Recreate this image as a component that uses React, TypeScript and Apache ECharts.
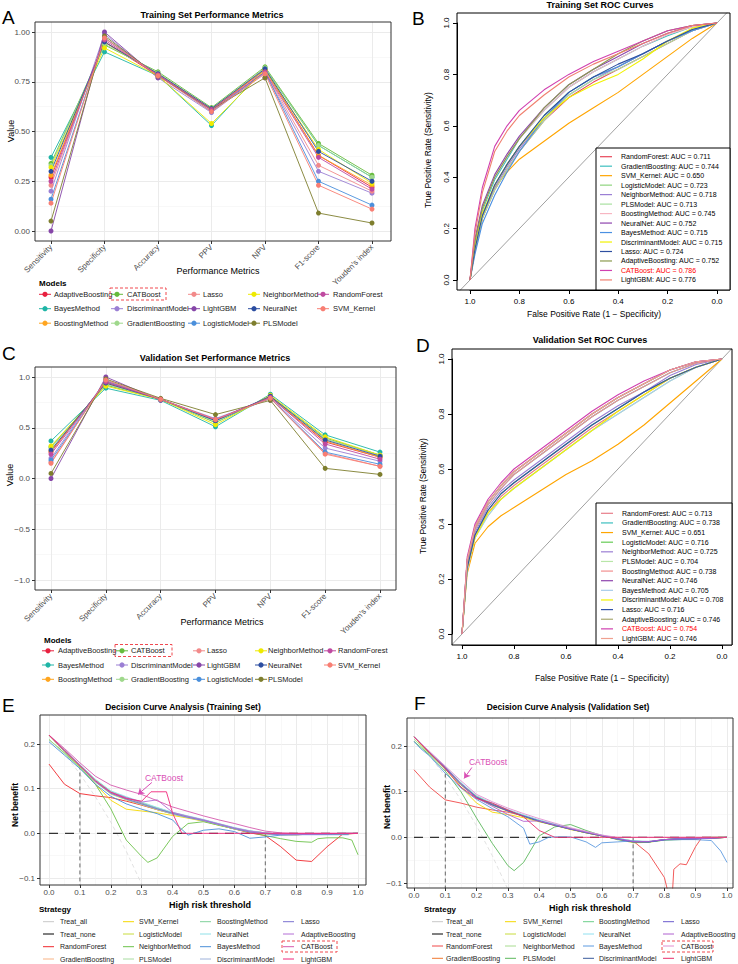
import React, { useEffect, useRef } from "react";
import * as echarts from "echarts";

const FONT = "'Liberation Sans', Arial, Helvetica, sans-serif";

// ---------------- Performance metrics (panels A, C) ----------------
const METRICS = ["Sensitivity", "Specificity", "Accuracy", "PPV", "NPV", "F1-score", "Youden's index"];
const PERF_MODELS = ["AdaptiveBoosting", "BayesMethod", "BoostingMethod", "CATBoost", "DiscriminantModel", "GradientBoosting", "Lasso", "LightGBM", "LogisticModel", "NeighborMethod", "NeuralNet", "PLSModel", "RandomForest", "SVM_Kernel"];
const PERF_LEGEND_ORDER = ["AdaptiveBoosting", "CATBoost", "Lasso", "NeighborMethod", "RandomForest", "BayesMethod", "DiscriminantModel", "LightGBM", "NeuralNet", "SVM_Kernel", "BoostingMethod", "GradientBoosting", "LogisticModel", "PLSModel"];
const PERF_COLORS: Record<string, string> = {
  AdaptiveBoosting: "#E8203F", BayesMethod: "#1EB5A6", BoostingMethod: "#FFA51F", CATBoost: "#66BB3C",
  DiscriminantModel: "#9B7FD4", GradientBoosting: "#9FD88C", Lasso: "#F28A8A", LightGBM: "#8646A8",
  LogisticModel: "#4A8FDB", NeighborMethod: "#EEEA00", NeuralNet: "#2B4DA0", PLSModel: "#7E7E2E",
  RandomForest: "#BF4AA0", SVM_Kernel: "#F87E73",
};
const TRAIN_PERF: Record<string, (number | null)[]> = {
  AdaptiveBoosting: [0.27, 0.95, 0.78, 0.61, 0.81, 0.38, 0.22],
  BayesMethod: [0.37, 0.90, 0.78, 0.53, 0.82, 0.43, 0.27],
  BoostingMethod: [0.28, 0.95, 0.79, 0.61, 0.81, 0.38, 0.23],
  CATBoost: [0.34, 0.935, 0.80, 0.62, 0.825, 0.44, 0.28],
  DiscriminantModel: [0.20, 0.99, 0.77, 0.595, 0.795, 0.30, 0.19],
  GradientBoosting: [0.33, 0.94, 0.795, 0.615, 0.82, 0.43, 0.27],
  Lasso: [0.23, 0.97, 0.785, 0.605, 0.80, 0.33, 0.20],
  LightGBM: [0.00, 1.00, 0.77, null, 0.77, null, null],
  LogisticModel: [0.16, 0.97, 0.785, 0.60, 0.80, 0.25, 0.13],
  NeighborMethod: [0.32, 0.92, 0.78, 0.54, 0.81, 0.41, 0.24],
  NeuralNet: [0.30, 0.95, 0.79, 0.615, 0.815, 0.40, 0.25],
  PLSModel: [0.05, 0.98, 0.78, 0.61, 0.77, 0.09, 0.04],
  RandomForest: [0.25, 0.96, 0.785, 0.61, 0.80, 0.37, 0.21],
  SVM_Kernel: [0.14, 0.97, 0.78, 0.60, 0.79, 0.23, 0.11],
};
const VALID_PERF: Record<string, (number | null)[]> = {
  AdaptiveBoosting: [0.26, 0.95, 0.78, 0.58, 0.80, 0.36, 0.21],
  BayesMethod: [0.37, 0.89, 0.77, 0.51, 0.83, 0.43, 0.26],
  BoostingMethod: [0.27, 0.94, 0.78, 0.57, 0.80, 0.37, 0.21],
  CATBoost: [0.31, 0.92, 0.78, 0.55, 0.81, 0.40, 0.23],
  DiscriminantModel: [0.20, 0.97, 0.78, 0.59, 0.79, 0.30, 0.17],
  GradientBoosting: [0.30, 0.93, 0.78, 0.56, 0.81, 0.39, 0.23],
  Lasso: [0.16, 0.96, 0.78, 0.58, 0.79, 0.25, 0.12],
  LightGBM: [0.00, 1.00, 0.77, null, 0.77, null, null],
  LogisticModel: [0.18, 0.96, 0.78, 0.57, 0.79, 0.26, 0.14],
  NeighborMethod: [0.32, 0.91, 0.78, 0.53, 0.82, 0.41, 0.23],
  NeuralNet: [0.28, 0.94, 0.78, 0.57, 0.81, 0.38, 0.22],
  PLSModel: [0.05, 0.98, 0.79, 0.63, 0.77, 0.10, 0.04],
  RandomForest: [0.24, 0.95, 0.78, 0.58, 0.80, 0.34, 0.19],
  SVM_Kernel: [0.15, 0.97, 0.78, 0.58, 0.79, 0.24, 0.12],
};

// ---------------- ROC (panels B, D) ----------------
const ROC_MODELS = ["RandomForest", "GradientBoosting", "SVM_Kernel", "LogisticModel", "NeighborMethod", "PLSModel", "BoostingMethod", "NeuralNet", "BayesMethod", "DiscriminantModel", "Lasso", "AdaptiveBoosting", "CATBoost", "LightGBM"];
const ROC_AUC_TRAIN = [0.711, 0.744, 0.650, 0.723, 0.718, 0.713, 0.745, 0.752, 0.715, 0.715, 0.724, 0.752, 0.786, 0.776];
const ROC_AUC_VALID = [0.713, 0.738, 0.651, 0.716, 0.725, 0.704, 0.738, 0.746, 0.705, 0.708, 0.716, 0.746, 0.754, 0.746];
const ROC_COLORS_TRAIN = ["#E8475A", "#3CBFBF", "#FFA500", "#8FD47F", "#9B7FD4", "#A8E0A0", "#F7B6C2", "#8E44AD", "#4A90E2", "#F2F200", "#2E4FA0", "#8C9A4E", "#D040B0", "#F08070"];
const ROC_COLORS_VALID = ["#E87D8A", "#3CBFBF", "#FFA500", "#66CC55", "#9B7FD4", "#B8E6A8", "#F29090", "#8E44AD", "#A8CCEA", "#F2F200", "#3050A8", "#A8A870", "#D040B0", "#F0A090"];
const ROC_SPEC = [1, 0.98, 0.95, 0.9, 0.85, 0.8, 0.7, 0.6, 0.5, 0.4, 0.3, 0.2, 0.1, 0];
const ROC_TRAIN: number[][] = [
  [0, 0.12, 0.24, 0.35, 0.43, 0.50, 0.62, 0.71, 0.77, 0.82, 0.87, 0.92, 0.97, 1],
  [0, 0.14, 0.27, 0.39, 0.47, 0.55, 0.66, 0.75, 0.81, 0.86, 0.91, 0.95, 0.985, 1],
  [0, 0.11, 0.24, 0.36, 0.42, 0.47, 0.54, 0.61, 0.67, 0.73, 0.80, 0.87, 0.94, 1],
  [0, 0.12, 0.25, 0.37, 0.45, 0.52, 0.64, 0.73, 0.79, 0.83, 0.88, 0.93, 0.975, 1],
  [0, 0.12, 0.25, 0.36, 0.44, 0.51, 0.63, 0.72, 0.78, 0.83, 0.88, 0.93, 0.97, 1],
  [0, 0.12, 0.24, 0.35, 0.43, 0.50, 0.62, 0.72, 0.78, 0.82, 0.87, 0.92, 0.97, 1],
  [0, 0.15, 0.28, 0.40, 0.48, 0.55, 0.66, 0.75, 0.81, 0.86, 0.91, 0.955, 0.985, 1],
  [0, 0.16, 0.29, 0.41, 0.49, 0.56, 0.67, 0.76, 0.82, 0.87, 0.92, 0.96, 0.99, 1],
  [0, 0.10, 0.22, 0.33, 0.42, 0.50, 0.63, 0.73, 0.79, 0.83, 0.88, 0.93, 0.97, 1],
  [0, 0.13, 0.26, 0.37, 0.45, 0.52, 0.63, 0.71, 0.76, 0.80, 0.86, 0.93, 0.98, 1],
  [0, 0.12, 0.25, 0.37, 0.45, 0.52, 0.64, 0.73, 0.79, 0.84, 0.88, 0.93, 0.975, 1],
  [0, 0.15, 0.28, 0.40, 0.48, 0.55, 0.67, 0.76, 0.82, 0.88, 0.93, 0.97, 0.99, 1],
  [0, 0.20, 0.36, 0.52, 0.60, 0.66, 0.74, 0.80, 0.85, 0.89, 0.93, 0.97, 0.99, 1],
  [0, 0.18, 0.34, 0.50, 0.58, 0.64, 0.72, 0.79, 0.84, 0.88, 0.92, 0.96, 0.99, 1],
];
const ROC_VALID: number[][] = [
  [0, 0.24, 0.36, 0.44, 0.50, 0.54, 0.61, 0.68, 0.75, 0.81, 0.87, 0.93, 0.97, 1],
  [0, 0.26, 0.38, 0.47, 0.53, 0.58, 0.65, 0.72, 0.79, 0.85, 0.90, 0.95, 0.985, 1],
  [0, 0.22, 0.33, 0.39, 0.43, 0.46, 0.52, 0.58, 0.63, 0.69, 0.76, 0.84, 0.92, 1],
  [0, 0.24, 0.36, 0.45, 0.51, 0.55, 0.62, 0.69, 0.76, 0.82, 0.88, 0.93, 0.97, 1],
  [0, 0.25, 0.37, 0.46, 0.52, 0.56, 0.63, 0.70, 0.77, 0.83, 0.88, 0.94, 0.98, 1],
  [0, 0.24, 0.35, 0.43, 0.49, 0.53, 0.60, 0.67, 0.74, 0.80, 0.86, 0.92, 0.97, 1],
  [0, 0.26, 0.38, 0.47, 0.53, 0.58, 0.65, 0.72, 0.79, 0.85, 0.90, 0.95, 0.985, 1],
  [0, 0.27, 0.39, 0.48, 0.54, 0.59, 0.66, 0.73, 0.80, 0.86, 0.91, 0.96, 0.99, 1],
  [0, 0.23, 0.35, 0.43, 0.49, 0.53, 0.60, 0.67, 0.74, 0.80, 0.86, 0.92, 0.97, 1],
  [0, 0.24, 0.35, 0.44, 0.49, 0.53, 0.60, 0.67, 0.74, 0.81, 0.87, 0.93, 0.97, 1],
  [0, 0.24, 0.36, 0.45, 0.51, 0.55, 0.62, 0.69, 0.76, 0.82, 0.88, 0.93, 0.97, 1],
  [0, 0.27, 0.39, 0.48, 0.54, 0.59, 0.66, 0.73, 0.80, 0.86, 0.91, 0.96, 0.99, 1],
  [0, 0.28, 0.40, 0.49, 0.55, 0.60, 0.67, 0.74, 0.81, 0.87, 0.92, 0.96, 0.99, 1],
  [0, 0.27, 0.39, 0.48, 0.54, 0.59, 0.66, 0.73, 0.80, 0.86, 0.91, 0.96, 0.99, 1],
];

// ---------------- Decision curves (panels E, F) ----------------
const DCA_MODELS = ["Treat_all", "Treat_none", "RandomForest", "GradientBoosting", "SVM_Kernel", "LogisticModel", "NeighborMethod", "PLSModel", "BoostingMethod", "NeuralNet", "BayesMethod", "DiscriminantModel", "Lasso", "AdaptiveBoosting", "CATBoost", "LightGBM"];
const DCA_COLORS_TRAIN = ["#C8C8C8", "#000000", "#F0282D", "#F9B384", "#F5D800", "#C8DC3C", "#6CC24A", "#A8DCA0", "#7FD19A", "#8FE0E8", "#4A8FD8", "#9EB2DA", "#7B72D0", "#B46ED6", "#D55AAE", "#F0287A"];
const DCA_COLORS_VALID = ["#C8C8C8", "#000000", "#F04848", "#F07830", "#F5D800", "#C8DC3C", "#A8DC90", "#5CB85C", "#6CCF8A", "#90E0F0", "#5C9AE0", "#3A5A9C", "#6A5ACD", "#B060D0", "#E28FD0", "#E8306A"];
const DCA_X = [0, 0.05, 0.1, 0.15, 0.2, 0.25, 0.3, 0.35, 0.4, 0.45, 0.5, 0.55, 0.6, 0.65, 0.7, 0.75, 0.8, 0.85, 0.9, 0.95, 1.0];
const DCA_TRAIN_X: Record<string, number[]> = {
  Treat_all: [0, 0.05, 0.1, 0.15, 0.2, 0.25, 0.3, 0.35],
  Treat_none: [0, 1],
  NeighborMethod: [0, 0.05, 0.1, 0.15, 0.2, 0.25, 0.3, 0.32, 0.35, 0.4, 0.45, 0.5, 0.55, 0.6, 0.65, 0.7, 0.75, 0.8, 0.85, 0.87, 0.9, 0.95, 0.98, 1.0],
  BayesMethod: [0, 0.05, 0.1, 0.15, 0.2, 0.25, 0.3, 0.35, 0.4, 0.42, 0.45, 0.5, 0.55, 0.6, 0.65, 0.7, 0.75, 0.8, 0.85, 0.9, 0.95, 0.97],
  LightGBM: [0, 0.05, 0.1, 0.15, 0.2, 0.25, 0.3, 0.33, 0.38, 0.4, 0.43, 0.5, 0.6, 0.7, 0.8, 0.9, 1.0],
};
const DCA_TRAIN: Record<string, number[]> = {
  Treat_all: [0.22, 0.179, 0.133, 0.082, 0.025, -0.04, -0.114, -0.2],
  Treat_none: [0, 0],
  RandomForest: [0.155, 0.11, 0.089, 0.084, 0.08, 0.072, 0.063, 0.053, 0.044, 0.036, 0.028, 0.019, 0.010, 0.001, -0.005, -0.03, -0.06, -0.063, -0.03, -0.002, 0.0],
  GradientBoosting: [0.22, 0.186, 0.153, 0.12, 0.094, 0.08, 0.068, 0.056, 0.045, 0.037, 0.03, 0.021, 0.012, 0.005, 0.001, -0.002, -0.003, -0.002, -0.001, 0, 0],
  SVM_Kernel: [0.22, 0.183, 0.148, 0.11, 0.074, 0.054, 0.05, 0.046, 0.04, 0.034, 0.027, 0.018, 0.01, 0.003, 0, -0.003, -0.003, -0.002, -0.002, -0.001, 0],
  LogisticModel: [0.22, 0.184, 0.15, 0.115, 0.088, 0.075, 0.064, 0.053, 0.043, 0.035, 0.028, 0.019, 0.01, 0.003, -0.001, -0.003, -0.003, -0.002, -0.002, -0.001, 0],
  NeighborMethod: [0.21, 0.18, 0.148, 0.11, 0.055, -0.015, -0.052, -0.065, -0.055, -0.007, 0.022, 0.026, 0.018, 0.01, 0.002, -0.005, -0.012, -0.018, -0.02, -0.012, -0.01, -0.01, -0.015, -0.048],
  PLSModel: [0.21, 0.178, 0.147, 0.115, 0.09, 0.076, 0.065, 0.054, 0.044, 0.036, 0.029, 0.02, 0.011, 0.004, 0, -0.002, -0.003, -0.002, -0.002, -0.001, 0],
  BoostingMethod: [0.22, 0.186, 0.153, 0.12, 0.093, 0.08, 0.068, 0.057, 0.046, 0.038, 0.03, 0.021, 0.012, 0.005, 0.001, -0.002, -0.002, -0.002, -0.001, 0, 0],
  NeuralNet: [0.22, 0.187, 0.154, 0.121, 0.095, 0.082, 0.07, 0.058, 0.047, 0.039, 0.031, 0.022, 0.013, 0.006, 0.001, -0.001, -0.002, -0.002, -0.001, 0, 0],
  BayesMethod: [0.205, 0.175, 0.145, 0.11, 0.083, 0.066, 0.054, 0.044, 0.03, 0.015, -0.004, 0.007, 0.01, 0.004, -0.011, -0.008, -0.004, -0.003, -0.003, -0.003, -0.003, -0.003],
  DiscriminantModel: [0.22, 0.185, 0.151, 0.117, 0.089, 0.076, 0.065, 0.054, 0.043, 0.035, 0.028, 0.019, 0.01, 0.003, -0.001, -0.003, -0.003, -0.002, -0.002, -0.001, 0],
  Lasso: [0.22, 0.184, 0.151, 0.116, 0.09, 0.077, 0.066, 0.055, 0.045, 0.036, 0.029, 0.02, 0.011, 0.003, -0.001, -0.003, -0.003, -0.002, -0.002, -0.001, 0],
  AdaptiveBoosting: [0.22, 0.186, 0.152, 0.116, 0.092, 0.08, 0.07, 0.075, 0.047, 0.038, 0.03, 0.021, 0.012, 0.005, 0.001, -0.002, -0.002, -0.002, -0.001, 0, 0],
  CATBoost: [0.22, 0.19, 0.158, 0.128, 0.108, 0.097, 0.087, 0.073, 0.059, 0.049, 0.039, 0.03, 0.022, 0.013, 0.005, 0.001, 0, 0, 0, 0, 0],
  LightGBM: [0.22, 0.186, 0.152, 0.118, 0.092, 0.078, 0.072, 0.093, 0.093, 0.045, 0.0, 0, 0, 0, 0, 0, 0],
};
const DCA_VALID_X: Record<string, number[]> = {
  Treat_all: [0, 0.05, 0.1, 0.15, 0.2, 0.25, 0.3, 0.35],
  Treat_none: [0, 1],
  RandomForest: [0, 0.05, 0.1, 0.15, 0.2, 0.25, 0.3, 0.35, 0.4, 0.45, 0.5, 0.55, 0.6, 0.65, 0.7, 0.75, 0.8, 0.815, 0.825, 0.83, 0.85, 0.87, 0.9, 0.92, 1.0],
  PLSModel: [0, 0.05, 0.1, 0.15, 0.2, 0.25, 0.3, 0.32, 0.35, 0.4, 0.45, 0.5, 0.55, 0.6, 0.65, 0.7, 0.75, 0.8, 0.85, 0.9, 0.95, 1.0],
  BayesMethod: [0, 0.02, 0.05, 0.1, 0.15, 0.2, 0.25, 0.3, 0.35, 0.37, 0.4, 0.43, 0.45, 0.5, 0.55, 0.58, 0.6, 0.65, 0.7, 0.75, 0.8, 0.85, 0.9, 0.95, 0.98, 1.0],
};
const DCA_VALID: Record<string, number[]> = {
  Treat_all: [0.22, 0.179, 0.133, 0.082, 0.025, -0.04, -0.114, -0.2],
  Treat_none: [0, 0],
  RandomForest: [0.148, 0.11, 0.082, 0.075, 0.066, 0.06, 0.055, 0.047, 0.036, 0.027, 0.018, 0.01, 0.003, -0.003, -0.008, -0.036, -0.088, -0.13, -0.13, -0.07, -0.058, -0.06, -0.02, 0.0, 0.0],
  GradientBoosting: [0.22, 0.186, 0.154, 0.118, 0.09, 0.074, 0.06, 0.048, 0.037, 0.028, 0.019, 0.011, 0.004, -0.003, -0.01, -0.01, -0.005, -0.003, -0.003, -0.002, 0],
  SVM_Kernel: [0.22, 0.183, 0.15, 0.11, 0.075, 0.055, 0.05, 0.043, 0.034, 0.026, 0.017, 0.01, 0.003, -0.004, -0.01, -0.01, -0.005, -0.003, -0.003, -0.002, 0],
  LogisticModel: [0.22, 0.184, 0.151, 0.115, 0.086, 0.07, 0.057, 0.046, 0.035, 0.026, 0.018, 0.01, 0.003, -0.004, -0.012, -0.011, -0.006, -0.004, -0.003, -0.002, 0],
  NeighborMethod: [0.215, 0.182, 0.15, 0.114, 0.087, 0.072, 0.058, 0.047, 0.036, 0.027, 0.018, 0.01, 0.004, -0.003, -0.009, -0.009, -0.005, -0.003, -0.003, 0, 0],
  PLSModel: [0.21, 0.18, 0.145, 0.1, 0.042, -0.013, -0.062, -0.073, -0.055, 0.003, 0.023, 0.028, 0.015, 0.004, -0.005, -0.01, -0.01, -0.006, -0.005, -0.003, 0, 0],
  BoostingMethod: [0.22, 0.186, 0.154, 0.118, 0.089, 0.073, 0.059, 0.048, 0.037, 0.028, 0.019, 0.011, 0.004, -0.002, -0.008, -0.01, -0.005, -0.003, -0.002, -0.001, 0],
  NeuralNet: [0.22, 0.187, 0.155, 0.12, 0.091, 0.075, 0.061, 0.049, 0.038, 0.029, 0.02, 0.012, 0.005, -0.002, -0.008, -0.009, -0.005, -0.003, -0.002, -0.001, 0],
  BayesMethod: [0.21, 0.195, 0.178, 0.14, 0.108, 0.083, 0.063, 0.045, 0.02, -0.015, -0.01, 0.0, 0.001, 0.001, -0.01, -0.022, -0.012, -0.01, -0.008, -0.01, -0.006, -0.005, -0.005, -0.007, -0.03, -0.055],
  DiscriminantModel: [0.22, 0.185, 0.152, 0.116, 0.087, 0.071, 0.058, 0.046, 0.035, 0.026, 0.018, 0.01, 0.003, -0.003, -0.01, -0.01, -0.005, -0.003, -0.003, -0.002, 0],
  Lasso: [0.22, 0.185, 0.152, 0.117, 0.088, 0.072, 0.058, 0.047, 0.036, 0.027, 0.018, 0.011, 0.004, -0.004, -0.01, -0.01, -0.005, -0.003, -0.003, -0.002, 0],
  AdaptiveBoosting: [0.22, 0.186, 0.153, 0.117, 0.086, 0.068, 0.05, 0.035, 0.036, 0.027, 0.019, 0.011, 0.004, -0.003, -0.009, -0.009, -0.005, -0.003, -0.003, -0.002, 0],
  CATBoost: [0.22, 0.188, 0.156, 0.124, 0.094, 0.078, 0.064, 0.052, 0.041, 0.031, 0.021, 0.013, 0.005, 0.0, 0.0, 0, 0, 0, 0, 0, 0],
  LightGBM: [0.22, 0.185, 0.15, 0.11, 0.085, 0.075, 0.06, 0.045, 0.015, 0.0, 0, 0, 0, 0, 0, 0, 0, 0, 0, 0, 0],
};
const THRESHOLDS = [0.1, 0.7];
const THRESH_TOP_TRAIN = [0.152, 0.0];
const THRESH_TOP_VALID = [0.155, 0.0];

// ---------------- helpers ----------------
type Anchor = [number, number, number, number];
const v2p = (a: Anchor, v: number) => a[1] + ((v - a[0]) * (a[3] - a[1])) / (a[2] - a[0]);
const p2v = (a: Anchor, p: number) => a[0] + ((p - a[1]) * (a[2] - a[0])) / (a[3] - a[1]);

interface AxisSpec { anchor: Anchor; min: number; max: number; interval: number; fmt: (v: number) => string; rotate?: number; minor?: boolean; margin?: number; }
interface Box { l: number; t: number; r: number; b: number; }
interface PanelSpec { box: Box; x: AxisSpec; y: AxisSpec; kind: "gg" | "base"; }

const fmtSigned = (d: number) => (v: number) => (v < -1e-9 ? "\u2212" : "") + Math.abs(v).toFixed(d);

function buildOption() {
  const grids: any[] = [];
  const xAxes: any[] = [];
  const yAxes: any[] = [];
  const series: any[] = [];
  const gfx: any[] = [];

  const addGrid = (g: any, xa: any, ya: any) => {
    const i = grids.length;
    grids.push({ ...g, containLabel: false, outerBoundsMode: "none", show: false });
    xAxes.push({ ...xa, gridIndex: i });
    yAxes.push({ ...ya, gridIndex: i });
    return i;
  };
  const hidden = (min = 0, max = 1, inverse = false) => ({ type: "value", show: false, min, max, inverse });

  const axisCfg = (s: AxisSpec, gg: boolean, inverse = false) => ({
    type: "value", min: s.min, max: s.max, interval: s.interval, inverse,
    axisLine: { show: !gg, lineStyle: { color: "#000", width: 1 } },
    axisTick: { show: true, inside: false, length: gg ? 3 : 4, lineStyle: { color: gg ? "#333333" : "#000", width: 1 } },
    axisLabel: { color: gg ? "#4D4D4D" : "#000", fontSize: 8, fontFamily: FONT, margin: s.margin ?? (gg ? 5 : 7), rotate: s.rotate || 0, formatter: s.fmt },
    splitLine: { show: gg, lineStyle: { color: "#EBEBEB", width: 1 } },
    minorTick: { show: false, splitNumber: 2 },
    minorSplitLine: { show: gg && !!s.minor, lineStyle: { color: "#F3F3F3", width: 0.6 } },
  });

  const panel = (s: PanelSpec) => {
    const { box } = s;
    const gg = s.kind === "gg";
    const yTop = v2p(s.y.anchor, s.y.max);
    const yBot = v2p(s.y.anchor, s.y.min);
    addGrid({ left: box.l, top: yTop, width: box.r - box.l, height: yBot - yTop }, hidden(), axisCfg(s.y, gg));
    const xa = v2p(s.x.anchor, s.x.min);
    const xb = v2p(s.x.anchor, s.x.max);
    const xInv = xa > xb;
    addGrid({ left: Math.min(xa, xb), top: box.t, width: Math.abs(xb - xa), height: box.b - box.t }, axisCfg(s.x, gg, xInv), hidden());
    const x0 = p2v(s.x.anchor, box.l);
    const x1 = p2v(s.x.anchor, box.r);
    const y0 = p2v(s.y.anchor, box.b);
    const y1 = p2v(s.y.anchor, box.t);
    const bi = addGrid({ left: box.l, top: box.t, width: box.r - box.l, height: box.b - box.t },
      hidden(Math.min(x0, x1), Math.max(x0, x1), x0 > x1), hidden(y0, y1));
    gfx.push({ type: "rect", z: 60, silent: true, shape: { x: box.l, y: box.t, width: box.r - box.l, height: box.b - box.t }, style: { fill: "none", stroke: gg ? "#333333" : "#000", lineWidth: 1 } });
    return bi;
  };

  const text = (t: string, x: number, y: number, size: number, o: any = {}) => {
    gfx.push({
      type: "text", x, y, z: 80, silent: true, rotation: o.rot ? Math.PI / 2 : 0,
      style: { text: t, fill: o.color || "#000", fontSize: size, fontFamily: FONT, fontWeight: o.bold ? "bold" : "normal", align: o.align || "center", verticalAlign: "middle" },
    });
  };
  const hline = (x1: number, x2: number, y: number, color: string, w = 1) =>
    gfx.push({ type: "line", z: 80, silent: true, shape: { x1, y1: y, x2, y2: y }, style: { stroke: color, lineWidth: w } });
  const dashBox = (x: number, y: number, w: number, h: number) =>
    gfx.push({ type: "rect", z: 80, silent: true, shape: { x, y, width: w, height: h }, style: { fill: "none", stroke: "#F0484F", lineWidth: 1, lineDash: [3, 2] } });

  // ----- Performance panels -----
  const perfPanel = (data: Record<string, (number | null)[]>, box: Box, xAnchor: Anchor, yAnchor: Anchor, ymin: number, yint: number, yfmt: (v: number) => string) => {
    const bi = panel({
      box, kind: "gg",
      x: { anchor: xAnchor, min: 0, max: 6, interval: 1, rotate: 45, fmt: (v: number) => METRICS[Math.round(v)] || "" },
      y: { anchor: yAnchor, min: ymin, max: 1, interval: yint, fmt: yfmt, minor: true },
    });
    PERF_MODELS.forEach((m) => {
      series.push({
        type: "line", name: m, xAxisIndex: bi, yAxisIndex: bi, silent: true, clip: false,
        symbol: "circle", symbolSize: 5, showSymbol: true, connectNulls: false,
        lineStyle: { color: PERF_COLORS[m], width: 0.9 }, itemStyle: { color: PERF_COLORS[m] },
        data: data[m].map((v, i) => [i, v == null ? "-" : v]),
      });
    });
  };
  const perfLegend = (titleX: number, titleY: number, iconX: number[], textX: number[], rowY: number[], cat: number[]) => {
    text("Models", titleX, titleY, 8, { bold: true, align: "left" });
    PERF_LEGEND_ORDER.forEach((m, k) => {
      const r = Math.floor(k / 5), c = k % 5;
      const y = rowY[r];
      hline(iconX[c] - 6, iconX[c] + 6, y, PERF_COLORS[m], 1);
      gfx.push({ type: "circle", z: 81, silent: true, shape: { cx: iconX[c], cy: y, r: 2.6 }, style: { fill: PERF_COLORS[m] } });
      text(m, textX[c], y, 7.5, { align: "left", color: "#1A1A1A" });
    });
    dashBox(cat[0], cat[1], cat[2], cat[3]);
  };

  // Panel A
  text("A", 2, 17, 19, { align: "left" });
  text("Training Set Performance Metrics", 212, 15, 9, { bold: true });
  perfPanel(TRAIN_PERF, { l: 35, t: 22, r: 391, b: 241 }, [0, 51, 6, 372], [0, 231, 1, 32], 0, 0.25, (v) => v.toFixed(2));
  text("Value", 11, 131, 9, { rot: true });
  text("Performance Metrics", 218, 271, 9);
  perfLegend(39, 283, [45, 117, 194, 254, 323], [54, 127, 203, 263, 333], [294.3, 308.7, 323.2], [110, 288, 56, 12]);

  // Panel C
  text("C", 2, 353, 19, { align: "left" });
  text("Validation Set Performance Metrics", 215, 358, 9, { bold: true });
  perfPanel(VALID_PERF, { l: 35, t: 367, r: 396, b: 590 }, [0, 51, 6, 380], [-1, 580, 1, 377], -1, 0.5, fmtSigned(1));
  text("Value", 10, 475, 9, { rot: true });
  text("Performance Metrics", 222, 622, 9);
  perfLegend(44, 640, [48, 122, 199, 261, 330], [58, 131, 207, 268, 338], [650.8, 665, 679.3], [115, 644.5, 57, 12]);

  // ----- ROC panels -----
  const rocPanel = (rocs: number[][], aucs: number[], colors: string[], box: Box, xAnchor: Anchor, yAnchor: Anchor, leg: { x: number; y: number; w: number; h: number; row0: number; step: number; lx: number; tx: number }) => {
    const bi = panel({
      box, kind: "base",
      x: { anchor: xAnchor, min: 0, max: 1, interval: 0.2, fmt: (v: number) => v.toFixed(1) },
      y: { anchor: yAnchor, min: 0, max: 1, interval: 0.2, fmt: (v: number) => v.toFixed(1), rotate: 90 },
    });
    series.push({
      type: "line", name: "diag", xAxisIndex: bi, yAxisIndex: bi, silent: true, symbol: "none",
      lineStyle: { color: "#A0A0A0", width: 1 }, data: [[1.2, -0.2], [-0.2, 1.2]],
    });
    ROC_MODELS.forEach((m, k) => {
      series.push({
        type: "line", name: m, xAxisIndex: bi, yAxisIndex: bi, silent: true, symbol: "none", showSymbol: false,
        lineStyle: { color: colors[k], width: 1.1 }, data: ROC_SPEC.map((s, i) => [s, rocs[k][i]]),
      });
    });
    gfx.push({ type: "rect", z: 70, silent: true, shape: { x: leg.x, y: leg.y, width: leg.w, height: leg.h }, style: { fill: "#fff", stroke: "#000", lineWidth: 1 } });
    ROC_MODELS.forEach((m, k) => {
      const y = leg.row0 + k * leg.step;
      hline(leg.lx, leg.lx + 12, y, colors[k], 1.2);
      text(`${m}: AUC = ${aucs[k].toFixed(3)}`, leg.tx, y, 7, { align: "left", color: m === "CATBoost" ? "#FF0000" : "#000" });
    });
  };

  text("B", 412, 18, 19, { align: "left" });
  text("Training Set ROC Curves", 600, 5, 9, { bold: true });
  rocPanel(ROC_TRAIN, ROC_AUC_TRAIN, ROC_COLORS_TRAIN, { l: 457, t: 13, r: 730, b: 290 }, [1, 470, 0, 717], [0, 280, 1, 23],
    { x: 596, y: 148, w: 134, h: 142, row0: 156.7, step: 9.48, lx: 600, tx: 621 });
  text("True Positive Rate (Sensitivity)", 428, 150, 8.5, { rot: true });
  text("False Positive Rate (1 \u2212 Specificity)", 594, 314, 8.5);

  text("D", 416, 345, 19, { align: "left" });
  text("Validation Set ROC Curves", 590, 340, 9, { bold: true });
  rocPanel(ROC_VALID, ROC_AUC_VALID, ROC_COLORS_VALID, { l: 452, t: 349, r: 732, b: 645 }, [1, 462, 0, 722], [0, 634, 1, 359],
    { x: 596, y: 503, w: 136, h: 142, row0: 513.3, step: 9.63, lx: 601, tx: 622 });
  text("True Positive Rate (Sensitivity)", 423, 496, 8.5, { rot: true });
  text("False Positive Rate (1 \u2212 Specificity)", 602, 678, 8.5);

  // ----- DCA panels -----
  const dcaPanel = (ys: Record<string, number[]>, xs: Record<string, number[]>, colors: string[], threshTop: number[], box: Box, xAnchor: Anchor, yAnchor: Anchor, arrow: number[][]) => {
    const bi = panel({
      box, kind: "gg",
      x: { anchor: xAnchor, min: 0, max: 1, interval: 0.1, fmt: (v: number) => v.toFixed(1), minor: true, margin: 3 },
      y: { anchor: yAnchor, min: -0.1, max: 0.2, interval: 0.1, fmt: fmtSigned(1), minor: true },
    });
    DCA_MODELS.forEach((m, k) => {
      const xv = xs[m] || DCA_X;
      const isAll = m === "Treat_all";
      const isNone = m === "Treat_none";
      const s: any = {
        type: "line", name: m, xAxisIndex: bi, yAxisIndex: bi, silent: true, symbol: "none", showSymbol: false,
        lineStyle: {
          color: isNone ? "#333" : isAll ? "#DADADA" : colors[k],
          width: isNone ? 1.1 : isAll ? 0.8 : 0.9,
          type: isNone ? [9, 7] : isAll ? [4, 3] : "solid",
        },
        data: ys[m].map((v, i) => [xv[i], v]),
      };
      if (m === "CATBoost") {
        s.markLine = {
          silent: true, symbol: ["none", "arrow"], symbolSize: 6, label: { show: false },
          lineStyle: { color: "#D94FB5", width: 1, type: "solid" },
          data: [[{ coord: arrow[0] }, { coord: arrow[1] }]],
        };
      }
      if (isNone) {
        THRESHOLDS.forEach((t, j) => {
          series.push({
            type: "line", name: "thr" + j, xAxisIndex: bi, yAxisIndex: bi, silent: true, symbol: "none",
            lineStyle: { color: "#444", width: 0.8, type: [4, 3] }, data: [[t, threshTop[j]], [t, -1]],
          });
        });
      }
      series.push(s);
    });
  };
  const dcaLegend = (colors: string[], titleX: number, lineX: number[], textX: number[], rowY: number[], cat: number[]) => {
    text("Strategy", titleX, 909, 8, { bold: true, align: "left" });
    DCA_MODELS.forEach((m, k) => {
      const c = Math.floor(k / 4), r = k % 4;
      hline(lineX[c], lineX[c] + 11, rowY[r], colors[k], 1);
      text(m, textX[c], rowY[r], 7, { align: "left", color: "#1A1A1A" });
    });
    dashBox(cat[0], cat[1], cat[2], cat[3]);
  };

  text("E", 2, 705, 19, { align: "left" });
  text("Decision Curve Analysis (Training Set)", 183, 707, 8.5, { bold: true });
  dcaPanel(DCA_TRAIN, DCA_TRAIN_X, DCA_COLORS_TRAIN, THRESH_TOP_TRAIN, { l: 40, t: 715, r: 366, b: 885 }, [0, 49, 1, 358], [-0.1, 878, 0.2, 744], [[0.333, 0.114], [0.288, 0.087]]);
  text("Net benefit", 15, 805, 8.5, { rot: true, bold: true });
  text("High risk threshold", 210, 905, 9, { bold: true });
  text("CATBoost", 164, 778, 8.5, { color: "#D94FB5" });
  dcaLegend(DCA_COLORS_TRAIN, 39, [43, 123, 200, 283], [60, 139, 217, 301], [921.7, 934, 946.7, 959], [282, 941, 55, 11]);

  text("F", 414, 703, 19, { align: "left" });
  text("Decision Curve Analysis (Validation Set)", 568, 707, 8.5, { bold: true });
  dcaPanel(DCA_VALID, DCA_VALID_X, DCA_COLORS_VALID, THRESH_TOP_VALID, { l: 407, t: 718, r: 733, b: 888 }, [0, 414, 1, 727], [-0.1, 883, 0.2, 746], [[0.185, 0.153], [0.16, 0.129]]);
  text("Net benefit", 387, 807, 8.5, { rot: true, bold: true });
  text("High risk threshold", 590, 908, 9, { bold: true });
  text("CATBoost", 488, 762, 8.5, { color: "#D94FB5" });
  dcaLegend(DCA_COLORS_VALID, 424, [432, 505, 583, 663], [446, 523, 599, 681], [921.7, 934, 946, 958.3], [662, 941, 51, 11]);

  return {
    animation: false,
    backgroundColor: "#ffffff",
    textStyle: { fontFamily: FONT },
    grid: grids,
    xAxis: xAxes,
    yAxis: yAxes,
    series,
    graphic: { elements: gfx },
  };
}

export default function App() {
  const ref = useRef<HTMLDivElement>(null);
  useEffect(() => {
    if (!ref.current) return;
    const chart = echarts.init(ref.current, undefined, { renderer: "svg" });
    chart.setOption(buildOption() as any);
    return () => chart.dispose();
  }, []);
  return <div ref={ref} style={{ position: "absolute", left: 0, top: 0, width: 738, height: 964, background: "#fff" }} />;
}
